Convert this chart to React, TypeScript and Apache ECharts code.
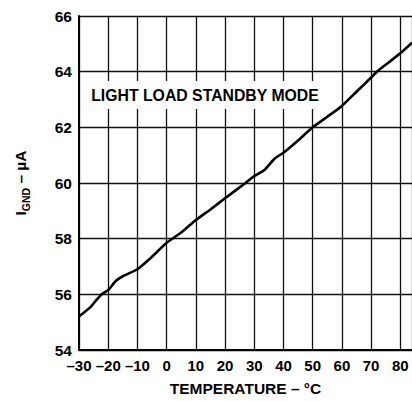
import React, { useEffect, useRef } from "react";
import * as echarts from "echarts";

const temperatures = [-30, -26, -24, -22, -20, -17.5, -15, -10, -5, 0, 5, 10, 15, 20, 27, 30, 33.5, 37, 40, 45, 50, 55, 60, 65, 68, 72, 76, 80, 84];
const currents = [55.2, 55.55, 55.8, 56.02, 56.15, 56.47, 56.65, 56.9, 57.35, 57.85, 58.22, 58.67, 59.05, 59.45, 60.0, 60.25, 60.47, 60.88, 61.09, 61.53, 62.0, 62.38, 62.77, 63.28, 63.58, 64.0, 64.33, 64.66, 65.04];
const annotation = "LIGHT LOAD STANDBY MODE";
const xTitle = "TEMPERATURE – °C";

const FONT = "'Liberation Sans', Arial, Helvetica, sans-serif";

export default function App() {
  const ref = useRef<HTMLDivElement>(null);
  useEffect(() => {
    if (!ref.current) return;
    const chart = echarts.init(ref.current, null, { renderer: "svg" });
    const data = temperatures.map((t, i) => [t, currents[i]]);
    chart.setOption({
      animation: false,
      backgroundColor: "#fff",
      grid: { left: 79, top: 16, right: 0, bottom: 51, containLabel: false },
      xAxis: {
        type: "value",
        min: -30,
        max: 84,
        interval: 10,
        name: xTitle,
        nameLocation: "middle",
        nameGap: 30,
        nameTextStyle: { fontFamily: FONT, fontWeight: "bold", fontSize: 15.5, color: "#000" },
        axisLine: { show: true, onZero: false, lineStyle: { color: "#000", width: 2 } },
        axisTick: { show: false },
        axisLabel: {
          margin: 8,
          fontFamily: FONT,
          fontWeight: "bold",
          fontSize: 15,
          color: "#000",
          showMaxLabel: false,
          formatter: (v: number) => (v % 10 === 0 ? (v < 0 ? "–" + Math.abs(v) : String(v)) : ""),
        },
        splitLine: { show: true, lineStyle: { color: "#111", width: 1.3 } },
      },
      yAxis: {
        type: "value",
        min: 54,
        max: 66,
        interval: 2,
        name: "{i|I}{sub|GND}{i| – µA}",
        nameLocation: "middle",
        nameGap: 48,
        nameRotate: 90,
        nameTextStyle: {
          fontFamily: FONT,
          fontWeight: "bold",
          color: "#000",
          rich: {
            i: { fontFamily: FONT, fontWeight: "bold", fontSize: 15.5, color: "#000", lineHeight: 22, verticalAlign: "middle" },
            sub: { fontFamily: FONT, fontWeight: "bold", fontSize: 10.5, color: "#000", lineHeight: 22, verticalAlign: "bottom" },
          },
        },
        axisLine: { show: true, onZero: false, lineStyle: { color: "#000", width: 2 } },
        axisTick: { show: false },
        axisLabel: { margin: 7, fontFamily: FONT, fontWeight: "bold", fontSize: 15.5, color: "#000" },
        splitLine: { show: true, lineStyle: { color: "#111", width: 1.3 } },
      },
      graphic: [
        {
          type: "text",
          x: 205,
          y: 95,
          z: 100,
          style: {
            text: annotation,
            fontFamily: FONT,
            fontWeight: "bold",
            fontSize: 15.8,
            fill: "#000",
            align: "center",
            verticalAlign: "middle",
            backgroundColor: "#fff",
            padding: [6, 6, 6, 6],
          },
        },
      ],
      series: [
        {
          type: "line",
          data,
          showSymbol: false,
          smooth: 0.15,
          lineStyle: { color: "#000", width: 2.6 },
          clip: true,
        },
      ],
    });
    return () => chart.dispose();
  }, []);
  return <div ref={ref} style={{ position: "fixed", left: 0, top: 0, width: 412, height: 401, background: "#fff" }} />;
}
